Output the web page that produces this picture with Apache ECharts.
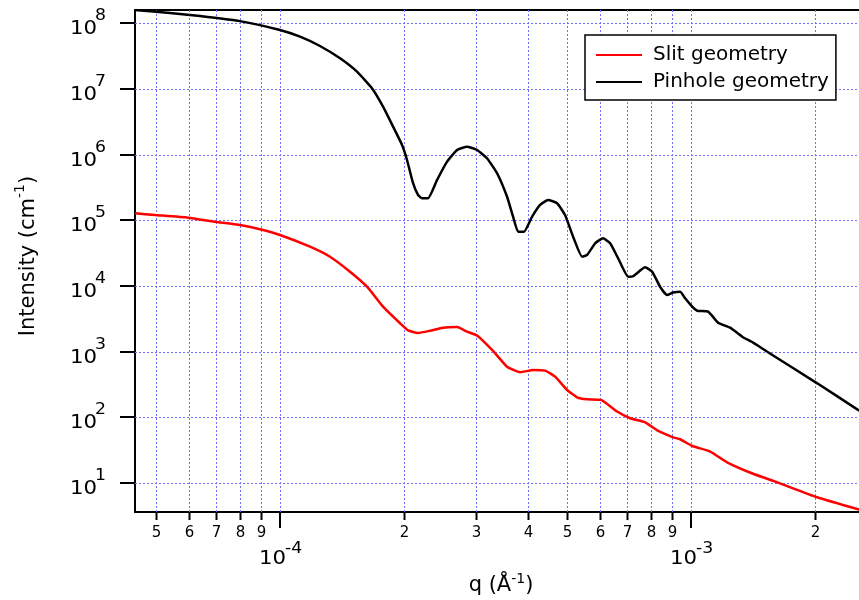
<!DOCTYPE html>
<html><head><meta charset="utf-8">
<script src="https://cdn.jsdelivr.net/npm/echarts@6/dist/echarts.min.js"></script>
<style>html,body{margin:0;padding:0;background:#fff}#c{width:859px;height:600px}</style>
</head><body><div id="c"></div>
<script>
// ---- data (q in 1/Å, intensity in 1/cm) ----
const qPinhole = [4.44e-5, 5.40e-5, 6.39e-5, 7.99e-5, 1.00e-4, 1.119e-4, 1.251e-4, 1.40e-4, 1.539e-4, 1.674e-4,
  1.781e-4, 1.884e-4, 1.981e-4, 2.037e-4, 2.106e-4, 2.166e-4, 2.215e-4, 2.291e-4, 2.410e-4, 2.549e-4,
  2.696e-4, 2.851e-4, 3.015e-4, 3.188e-4, 3.373e-4, 3.567e-4, 3.689e-4, 3.794e-4, 3.924e-4, 4.104e-4,
  4.292e-4, 4.488e-4, 4.72e-4, 4.935e-4, 5.163e-4, 5.43e-4, 5.585e-4, 5.84e-4, 6.107e-4, 6.353e-4,
  6.644e-4, 7.026e-4, 7.226e-4, 7.73e-4, 8.04e-4, 8.41e-4, 8.74e-4, 9.04e-4, 9.40e-4, 9.67e-4,
  1.006e-3, 1.034e-3, 1.100e-3, 1.163e-3, 1.244e-3, 1.331e-3, 1.415e-3, 1.531e-3, 2.026e-3, 2.563e-3];
const iPinhole = [1.594e8, 1.435e8, 1.29e8, 1.08e8, 7.91e7, 6.25e7, 4.51e7, 2.93e7, 1.834e7, 1.025e7,
  5.38e6, 2.67e6, 1.405e6, 8.31e5, 3.71e5, 2.44e5, 2.17e5, 2.17e5, 4.12e5, 7.83e5,
  1.179e6, 1.324e6, 1.179e6, 8.82e5, 5.21e5, 2.29e5, 1.138e5, 6.73e4, 6.73e4, 1.138e5,
  1.716e5, 2.044e5, 1.821e5, 1.208e5, 5.65e4, 2.80e4, 2.975e4, 4.48e4, 5.34e4, 4.48e4,
  2.65e4, 1.39e4, 1.41e4, 1.932e4, 1.657e4, 9.69e3, 7.32e3, 7.99e3, 8.22e3, 6.52e3,
  4.86e3, 4.22e3, 4.08e3, 2.77e3, 2.33e3, 1.697e3, 1.376e3, 1.003e3, 331, 127];
const qSlit = [4.44e-5, 4.966e-5, 5.974e-5, 6.95e-5, 7.99e-5, 8.94e-5, 1.0e-4, 1.183e-4, 1.323e-4, 1.480e-4,
  1.628e-4, 1.781e-4, 1.959e-4, 2.049e-4, 2.166e-4, 2.317e-4, 2.492e-4, 2.696e-4, 2.851e-4, 3.015e-4,
  3.298e-4, 3.567e-4, 3.837e-4, 4.127e-4, 4.413e-4, 4.667e-4, 4.993e-4, 5.28e-4, 5.585e-4, 6.04e-4,
  6.607e-4, 7.105e-4, 7.73e-4, 8.32e-4, 9.04e-4, 9.40e-4, 1.006e-3, 1.113e-3, 1.223e-3, 1.415e-3,
  1.619e-3, 2.026e-3, 2.563e-3];
const iSlit = [1.282e5, 1.208e5, 1.099e5, 9.55e4, 8.51e4, 7.32e4, 6.0e4, 3.98e4, 2.80e4, 1.657e4,
  9.79e3, 4.86e3, 2.72e3, 2.12e3, 1.932e3, 2.09e3, 2.33e3, 2.38e3, 2.02e3, 1.77e3,
  1.029e3, 593, 488, 528, 516, 418, 262, 203, 189, 185,
  123, 97.2, 84.5, 62.3, 49.9, 46.6, 36.8, 30.3, 20.8, 13.9,
  10.3, 6.10, 3.95];

const seriesNames = ['Slit geometry', 'Pinhole geometry'];
const xMinorTicks = [5e-5, 6e-5, 7e-5, 8e-5, 9e-5, 2e-4, 3e-4, 4e-4, 5e-4, 6e-4, 7e-4, 8e-4, 9e-4, 2e-3];
const xMinorLabels = ['5', '6', '7', '8', '9', '2', '3', '4', '5', '6', '7', '8', '9', '2'];
const xMajorTicks = [1e-4, 1e-3];
const xMajorExp = ['-4', '-3'];
const yTicks = [1e1, 1e2, 1e3, 1e4, 1e5, 1e6, 1e7, 1e8];
const yExp = ['1', '2', '3', '4', '5', '6', '7', '8'];
const xRange = [4.44e-5, 2.56e-3];
const yRange = [3.64, 1.594e8];

// ---- styling ----
const FONT = 'DejaVu Sans';
const GRIDC = '#6f6fff';
const chart = echarts.init(document.getElementById('c'), null, { renderer: 'canvas' });

const mctx = document.createElement('canvas').getContext('2d');
function tw(txt, size) { mctx.font = size + 'px "' + FONT + '"'; return mctx.measureText(txt).width; }

function txt(x, y, s, size, align, sx) {
  return { type: 'text', x: x, y: y, scaleX: sx || 1,
    style: { text: s, fill: '#000', fontSize: size, fontFamily: FONT,
             align: align, verticalAlign: 'middle' } };
}

// builds text parts [{t, sup}] centred at 0 along the baseline direction
function supTextChildren(parts, size, supSize, supDy) {
  let total = 0;
  parts.forEach(p => { p.w = tw(p.t, p.sup ? supSize : size); total += p.w; });
  let x = -total / 2;
  return parts.map(p => {
    const el = txt(x, p.sup ? supDy : 0, p.t, p.sup ? supSize : size, 'left');
    x += p.w;
    return el;
  });
}

const axisCommon = {
  type: 'log', logBase: 10,
  axisTick: { show: false }, axisLabel: { show: false }, splitLine: { show: false },
  minorTick: { show: false }, minorSplitLine: { show: false },
  axisLine: { show: true, onZero: false, lineStyle: { color: '#000', width: 2 } }
};

const px = v => Math.round(v) + 0.5;

const option = {
  animation: false,
  backgroundColor: '#fff',
  grid: { left: 135, top: 10, right: 0, bottom: 88 },
  xAxis: [
    Object.assign({}, axisCommon, { min: xRange[0], max: xRange[1], position: 'bottom' }),
    Object.assign({}, axisCommon, { min: xRange[0], max: xRange[1], position: 'top' })
  ],
  yAxis: Object.assign({}, axisCommon, { min: yRange[0], max: yRange[1], position: 'left' }),
  legend: {
    data: seriesNames, orient: 'vertical', left: 585, top: 35,
    itemWidth: 46, itemHeight: 2, itemGap: 3,
    padding: [8, 7, 6, 10], borderColor: '#000', borderWidth: 1.5, borderRadius: 0,
    backgroundColor: '#fff',
    textStyle: { fontFamily: FONT, fontSize: 20, color: '#000', lineHeight: 24, padding: [0, 0, 0, 6] }
  },
  graphic: [
    { type: 'group', x: 501, y: 586, children: supTextChildren([{ t: 'q (Å' }, { t: '-1', sup: true }, { t: ')' }], 21, 14, -7) },
    { type: 'group', x: 29, y: 256, rotation: Math.PI / 2,
      children: supTextChildren([{ t: 'Intensity (cm' }, { t: '-1', sup: true }, { t: ')' }], 21, 14, -9) }
  ],
  series: [
    { // vertical grid lines
      type: 'custom', silent: true, z: 1, xAxisIndex: 0, yAxisIndex: 0,
      data: xMinorTicks.concat(xMajorTicks).map(q => [q, yRange[0]]),
      encode: { x: 0, y: 1 },
      renderItem(params, api) {
        const cs = params.coordSys;
        const x = px(api.coord([api.value(0), yRange[0]])[0]);
        return { type: 'line', shape: { x1: x, y1: cs.y, x2: x, y2: cs.y + cs.height },
                 style: { stroke: GRIDC, lineWidth: 1, lineDash: [2, 2] } };
      }
    },
    { // horizontal grid lines
      type: 'custom', silent: true, z: 1, xAxisIndex: 0, yAxisIndex: 0,
      data: yTicks.map(v => [xRange[0], v]),
      encode: { x: 0, y: 1 },
      renderItem(params, api) {
        const cs = params.coordSys;
        const y = px(api.coord([xRange[0], api.value(1)])[1]);
        return { type: 'line', shape: { x1: cs.x, y1: y, x2: cs.x + cs.width, y2: y },
                 style: { stroke: GRIDC, lineWidth: 1, lineDash: [2, 2] } };
      }
    },
    {
      type: 'line', name: seriesNames[0], xAxisIndex: 0, yAxisIndex: 0, z: 5,
      data: qSlit.map((q, i) => [q, iSlit[i]]),
      symbol: 'none', smooth: 0.15, clip: true,
      lineStyle: { color: '#ff0000', width: 2.5 }, itemStyle: { color: '#ff0000' }
    },
    {
      type: 'line', name: seriesNames[1], xAxisIndex: 0, yAxisIndex: 0, z: 5,
      data: qPinhole.map((q, i) => [q, iPinhole[i]]),
      symbol: 'none', smooth: 0.15, clip: true,
      lineStyle: { color: '#000000', width: 2.5 }, itemStyle: { color: '#000000' }
    },
    { // x minor ticks + labels
      type: 'custom', silent: true, z: 10, xAxisIndex: 0, yAxisIndex: 0,
      data: xMinorTicks.map((q, i) => [q, yRange[0], i]),
      encode: { x: 0, y: 1 },
      renderItem(params, api) {
        const cs = params.coordSys;
        const x = px(api.coord([api.value(0), yRange[0]])[0]);
        const y0 = cs.y + cs.height;
        return { type: 'group', children: [
          { type: 'line', shape: { x1: x, y1: y0, x2: x, y2: y0 + 8 }, style: { stroke: '#000', lineWidth: 2 } },
          txt(x, y0 + 21, xMinorLabels[api.value(2)], 15, 'center')
        ] };
      }
    },
    { // x major ticks + labels
      type: 'custom', silent: true, z: 10, xAxisIndex: 0, yAxisIndex: 0,
      data: xMajorTicks.map((q, i) => [q, yRange[0], i]),
      encode: { x: 0, y: 1 },
      renderItem(params, api) {
        const cs = params.coordSys;
        const x = Math.round(api.coord([api.value(0), yRange[0]])[0]);
        const y0 = cs.y + cs.height;
        return { type: 'group', children: [
          { type: 'line', shape: { x1: x, y1: y0, x2: x, y2: y0 + 16 }, style: { stroke: '#000', lineWidth: 2 } },
          txt(x + 6, y0 + 47, '10', 19, 'right', 1.12),
          txt(x + 5, y0 + 37, xMajorExp[api.value(2)], 15, 'left', 1.15)
        ] };
      }
    },
    { // y ticks + labels
      type: 'custom', silent: true, z: 10, xAxisIndex: 0, yAxisIndex: 0,
      data: yTicks.map((v, i) => [xRange[0], v, i]),
      encode: { x: 0, y: 1 },
      renderItem(params, api) {
        const cs = params.coordSys;
        const y = Math.round(api.coord([xRange[0], api.value(1)])[1]);
        return { type: 'group', children: [
          { type: 'line', shape: { x1: cs.x - 15, y1: y, x2: cs.x, y2: y }, style: { stroke: '#000', lineWidth: 2 } },
          txt(cs.x - 38, y + 6, '10', 19, 'right', 1.12),
          txt(cs.x - 40, y - 7, yExp[api.value(2)], 15, 'left', 1.15)
        ] };
      }
    }
  ]
};
chart.setOption(option);
</script></body></html>
